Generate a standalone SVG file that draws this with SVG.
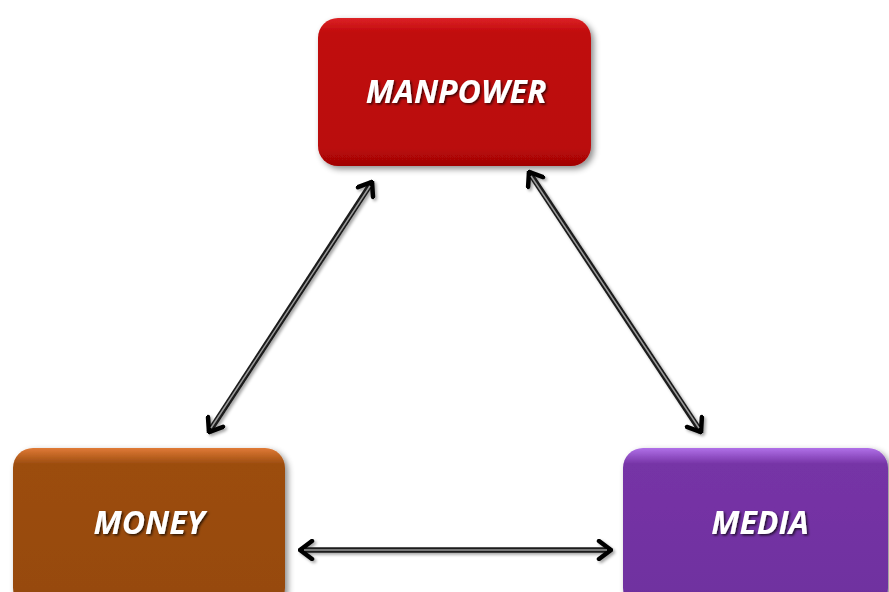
<svg xmlns="http://www.w3.org/2000/svg" width="889" height="592" viewBox="0 0 889 592">
<defs>
  <linearGradient id="gRed" x1="0" y1="0" x2="0" y2="1">
    <stop offset="0" stop-color="#dc2226"/>
    <stop offset="0.1" stop-color="#c00a0c"/>
    <stop offset="0.88" stop-color="#ba0808"/>
    <stop offset="1" stop-color="#a00505"/>
  </linearGradient>
  <linearGradient id="gBrown" x1="0" y1="0" x2="0" y2="1">
    <stop offset="0" stop-color="#e07a36"/>
    <stop offset="0.1" stop-color="#9c4d0f"/>
    <stop offset="0.88" stop-color="#974a0e"/>
    <stop offset="1" stop-color="#86400c"/>
  </linearGradient>
  <linearGradient id="gPurple" x1="0" y1="0" x2="0" y2="1">
    <stop offset="0" stop-color="#b070e8"/>
    <stop offset="0.1" stop-color="#7634a6"/>
    <stop offset="0.88" stop-color="#7030a0"/>
    <stop offset="1" stop-color="#622890"/>
  </linearGradient>
  <filter id="shadow" x="-10%" y="-10%" width="125%" height="130%">
    <feDropShadow dx="3" dy="3" stdDeviation="3" flood-color="#000" flood-opacity="0.45"/>
  </filter>
  <filter id="tshadow" x="-10%" y="-20%" width="120%" height="150%">
    <feDropShadow dx="1.5" dy="1.5" stdDeviation="0.8" flood-color="#000" flood-opacity="0.7"/>
  </filter>
  <filter id="ashadow" x="-20%" y="-20%" width="140%" height="140%">
    <feDropShadow dx="2" dy="2" stdDeviation="1.8" flood-color="#000" flood-opacity="0.35"/>
  </filter>
  <marker id="chev" viewBox="-16 -11 18 22" refX="0" refY="0" markerWidth="18" markerHeight="22" markerUnits="userSpaceOnUse" orient="auto-start-reverse">
    <path d="M-12,-9 L0,0 L-12,9" fill="none" stroke="#000" stroke-width="4.5" stroke-linecap="round" stroke-linejoin="miter"/>
  </marker>
</defs>
<style>
  .lbl { font-family: "Open Sans", "Liberation Sans", sans-serif; font-weight: bold; font-style: italic; font-size: 32px; fill: #ffffff; text-anchor: middle; }
  .shaft { fill: none; stroke: #1a1a1a; stroke-width: 5.5; }
  .core { fill: none; stroke: #9a9a9a; stroke-width: 1.5; }
</style>
<rect width="889" height="592" fill="#ffffff"/>
<g id="connectors" filter="url(#ashadow)">
  <g>
    <line class="shaft" x1="372" y1="182" x2="209" y2="432" marker-start="url(#chev)" marker-end="url(#chev)"/>
    <line class="core" x1="370" y1="186" x2="211" y2="428"/>
  </g>
  <g>
    <line class="shaft" x1="529" y1="172" x2="701" y2="432" marker-start="url(#chev)" marker-end="url(#chev)"/>
    <line class="core" x1="531" y1="176" x2="699" y2="428"/>
  </g>
  <g>
    <line class="shaft" x1="300" y1="550" x2="611" y2="550" marker-start="url(#chev)" marker-end="url(#chev)"/>
    <line class="core" x1="304" y1="550" x2="607" y2="550"/>
  </g>
</g>
<g id="manpower">
  <rect x="318" y="18" width="273" height="148" rx="20" ry="20" fill="url(#gRed)" filter="url(#shadow)"/>
  <text class="lbl" x="456" y="103" filter="url(#tshadow)">MANPOWER</text>
</g>
<g id="money">
  <rect x="13" y="448" width="272" height="160" rx="20" ry="20" fill="url(#gBrown)" filter="url(#shadow)"/>
  <text class="lbl" x="149" y="534" filter="url(#tshadow)">MONEY</text>
</g>
<g id="media">
  <rect x="623" y="448" width="265" height="160" rx="20" ry="20" fill="url(#gPurple)" filter="url(#shadow)"/>
  <text class="lbl" x="760" y="534" filter="url(#tshadow)">MEDIA</text>
</g>
</svg>
